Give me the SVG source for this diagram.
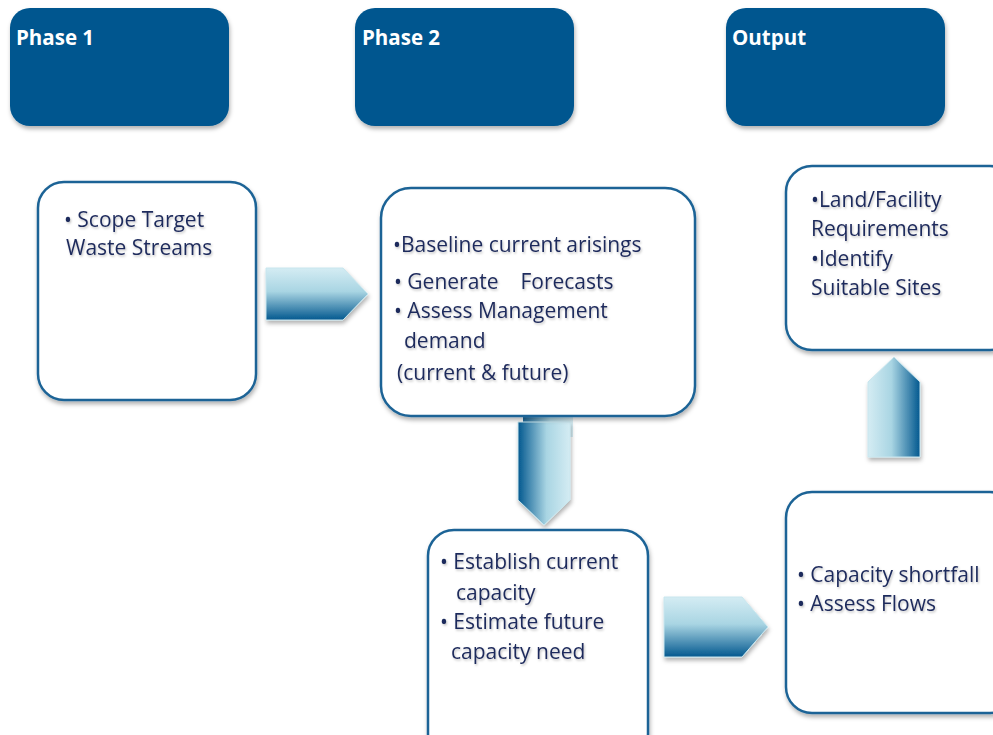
<svg xmlns="http://www.w3.org/2000/svg" width="993" height="735" viewBox="0 0 993 735">
<defs>
<filter id="sh" x="-10%" y="-10%" width="130%" height="130%"><feDropShadow dx="1" dy="3" stdDeviation="2" flood-color="#000" flood-opacity="0.3"/></filter>
<filter id="tsh" x="-5%" y="-20%" width="110%" height="150%"><feDropShadow dx="1" dy="1.5" stdDeviation="1" flood-color="#000" flood-opacity="0.25"/></filter>
<linearGradient id="gv" x1="0" y1="0" x2="0" y2="1"><stop offset="0" stop-color="#d4ecf3"/><stop offset="0.45" stop-color="#a9d5e3"/><stop offset="1" stop-color="#03588f"/></linearGradient>
<linearGradient id="gdl" x1="0" y1="0" x2="1" y2="0"><stop offset="0" stop-color="#03588f"/><stop offset="0.55" stop-color="#a9d5e3"/><stop offset="1" stop-color="#d4ecf3"/></linearGradient>
<linearGradient id="gdr" x1="0" y1="0" x2="1" y2="0"><stop offset="0" stop-color="#d4ecf3"/><stop offset="0.45" stop-color="#a9d5e3"/><stop offset="1" stop-color="#03588f"/></linearGradient>
<style>
.hdr{fill:#02578f;filter:url(#sh)}
.ht{font-family:"Open Sans","Liberation Sans",sans-serif;font-weight:bold;font-size:20.5px;fill:#fff}
.box{fill:#fff;stroke:#1d6496;stroke-width:2.5;filter:url(#sh)}
.t{font-family:"Open Sans","Liberation Sans",sans-serif;font-size:21px;fill:#1f2b5c;filter:url(#tsh)}
.arr{stroke:#c8e6ee;stroke-width:1;filter:url(#sh)}
</style>
</defs>
<g id="phase1"><rect class="hdr" x="10" y="8" width="219" height="118" rx="20"/><text class="ht" x="16" y="45">Phase 1</text></g>
<g id="phase2"><rect class="hdr" x="355" y="8" width="219" height="118" rx="20"/><text class="ht" x="362" y="45">Phase 2</text></g>
<g id="output"><rect class="hdr" x="726" y="8" width="219" height="118" rx="20"/><text class="ht" x="732" y="45">Output</text></g>
<g id="connectors">
<polygon class="arr" fill="url(#gv)" points="266,268 343,268 368,294 343,320 266,320"/>
<rect x="523" y="415" width="50" height="22" fill="url(#gdl)" opacity="0.9"/>
<polygon class="arr" fill="url(#gdl)" points="518,422 570,422 570,500 544,525 518,500"/>
<polygon class="arr" fill="url(#gv)" points="664,597 742,597 768,627 742,657 664,657"/>
<polygon class="arr" fill="url(#gdr)" points="894,357 920,382 920,457 868,457 868,382"/>
</g>
<g id="scope"><rect class="box" x="38" y="182" width="218" height="218" rx="26"/>
<text class="t"><tspan x="64" y="227">• Scope Target</tspan><tspan x="66" y="255">Waste Streams</tspan></text></g>
<g id="baseline"><rect class="box" x="381" y="188" width="314" height="228" rx="30"/>
<text class="t"><tspan x="393" y="252">•Baseline current arisings</tspan><tspan x="394" y="289" xml:space="preserve">• Generate    Forecasts</tspan><tspan x="394" y="318">• Assess Management</tspan><tspan x="404" y="348">demand</tspan><tspan x="397" y="380">(current &amp; future)</tspan></text></g>
<g id="land"><rect class="box" x="786" y="166" width="230" height="184" rx="26"/>
<text class="t"><tspan x="811" y="207">•Land/Facility</tspan><tspan x="811" y="236">Requirements</tspan><tspan x="811" y="266">•Identify</tspan><tspan x="811" y="295">Suitable Sites</tspan></text></g>
<g id="establish"><rect class="box" x="428" y="530" width="220" height="230" rx="26"/>
<text class="t"><tspan x="440" y="569">• Establish current</tspan><tspan x="456" y="600">capacity</tspan><tspan x="440" y="629">• Estimate future</tspan><tspan x="451" y="659">capacity need</tspan></text></g>
<g id="capacity"><rect class="box" x="786" y="492" width="230" height="221" rx="26"/>
<text class="t"><tspan x="797" y="582">• Capacity shortfall</tspan><tspan x="797" y="611">• Assess Flows</tspan></text></g>
</svg>
